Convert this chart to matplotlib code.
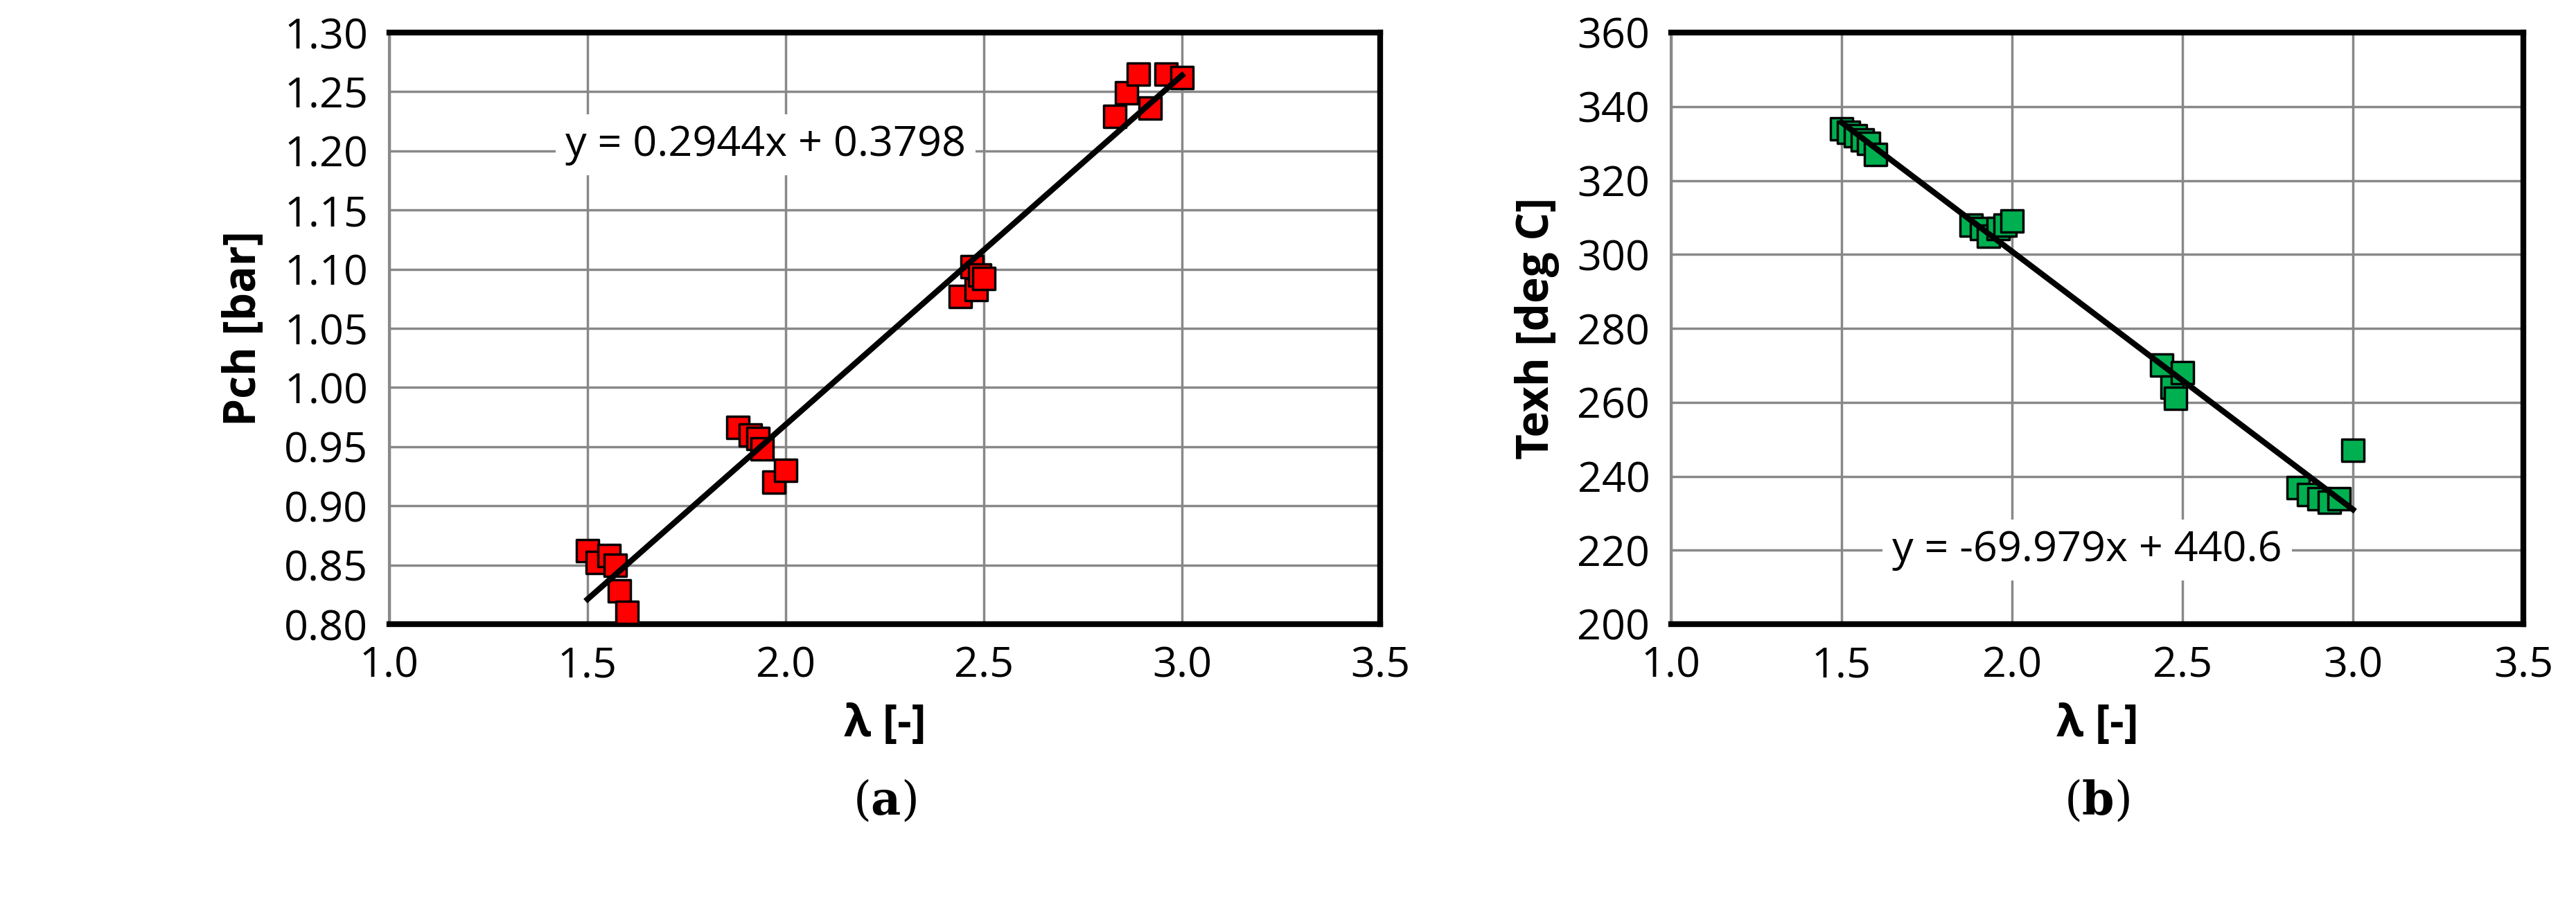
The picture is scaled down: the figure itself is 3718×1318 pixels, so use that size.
import matplotlib
matplotlib.use("Agg")
import matplotlib.pyplot as plt
import numpy as np

lam_a = [1.50,1.525,1.555,1.57,1.58,1.60,1.88,1.91,1.93,1.94,1.97,2.00,2.44,2.47,2.48,2.49,2.50,2.83,2.86,2.89,2.92,2.96,3.00]
pch   = [0.862,0.852,0.858,0.850,0.828,0.810,0.966,0.960,0.957,0.948,0.920,0.930,1.077,1.102,1.083,1.095,1.092,1.229,1.249,1.265,1.236,1.265,1.262]
lam_b = [1.50,1.52,1.54,1.56,1.58,1.60,1.88,1.91,1.93,1.96,1.98,2.00,2.44,2.47,2.48,2.50,2.84,2.87,2.90,2.93,2.96,3.00]
texh  = [334,333,332,331,330,327,308,307,305,307,308,309,270,264,261,268,237,235,234,233,234,247]
eq_a = "y = 0.2944x + 0.3798"
eq_b = "y = -69.979x + 440.6"

plt.rcParams['font.family'] = ['Liberation Sans Narrow', 'Open Sans', 'DejaVu Sans']
plt.rcParams['mathtext.fontset'] = 'dejavuserif'
fig = plt.figure(figsize=(37.18, 13.18), dpi=100)
ax1 = fig.add_axes([562/3718, 1-901/1318, 1430/3718, 854/1318])
ax2 = fig.add_axes([2412/3718, 1-901/1318, 1230/3718, 854/1318])

def style(ax, x, y, color, ylim, yticks, ylabel, fmt, eq, eqpos, label):
    ax.grid(True, color='#888888', lw=2.5)
    ax.set_axisbelow(True)
    ax.scatter(x, y, marker='s', s=520, c=color, edgecolors='black', linewidths=2.5, zorder=3)
    c = np.polyfit(x, y, 1)
    xs = np.array([min(x), max(x)])
    ax.plot(xs, np.polyval(c, xs), color='black', lw=6, zorder=4)
    ax.set_xlim(1.0, 3.5)
    ax.set_ylim(*ylim)
    ax.set_xticks(np.arange(1.0, 3.51, 0.5))
    ax.set_xticklabels([f"{v:.1f}" for v in np.arange(1.0, 3.51, 0.5)])
    ax.set_yticks(yticks)
    ax.set_yticklabels([fmt.format(v) for v in yticks])
    ax.tick_params(labelsize=44, length=0, pad=22)
    for s in ['top', 'right', 'bottom']:
        ax.spines[s].set_linewidth(6)
    ax.spines['left'].set_color('#888888')
    ax.spines['left'].set_linewidth(3)
    ax.set_xlabel("λ [-]", fontsize=46, fontweight='bold', labelpad=16)
    ax.set_ylabel(ylabel, fontsize=46, fontweight='bold', labelpad=18)
    ax.text(*eqpos, eq, fontsize=44, ha='center', va='center',
            bbox=dict(facecolor='white', edgecolor='none', pad=10), zorder=5)
    ax.text(0.5, -0.30, "(" + r"$\mathbf{" + label + "}$" + ")", transform=ax.transAxes,
            fontsize=48, ha='center', va='center', family='DejaVu Serif')

style(ax1, lam_a, pch, '#ff0000', (0.80, 1.30), np.arange(0.80, 1.301, 0.05), "Pch [bar]", "{:.2f}", eq_a, (1.95, 1.205), "a")
style(ax2, lam_b, texh, '#00b050', (200, 360), np.arange(200, 361, 20), "Texh [deg C]", "{:.0f}", eq_b, (2.22, 220), "b")
fig.savefig("out.png", dpi=100)
